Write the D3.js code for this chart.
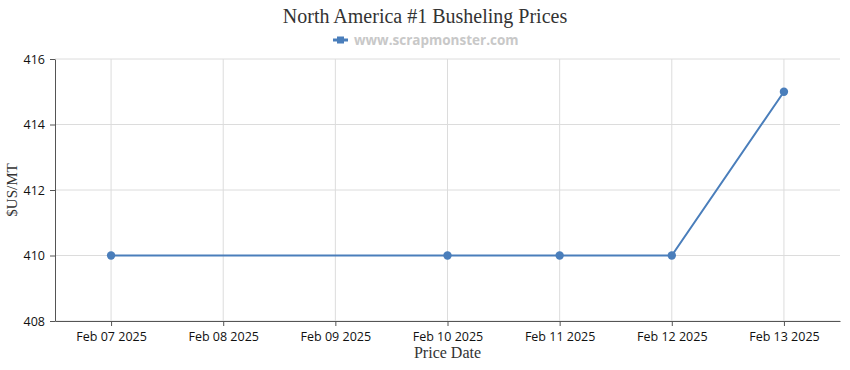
<!DOCTYPE html>
<html>
<head>
<meta charset="utf-8">
<script src="https://cdn.jsdelivr.net/npm/d3@7"></script>
<style>
  body { margin: 0; background: #fff; }
  .tick text { font-family: "Open Sans", "Noto Sans", sans-serif; font-size: 12.5px; fill: #111; }
</style>
</head>
<body>
<div id="chart"></div>
<script>
const dates = ["Feb 07 2025", "Feb 08 2025", "Feb 09 2025", "Feb 10 2025", "Feb 11 2025", "Feb 12 2025", "Feb 13 2025"];
const pointDates = ["Feb 07 2025", "Feb 10 2025", "Feb 11 2025", "Feb 12 2025", "Feb 13 2025"];
const prices = [410, 410, 410, 410, 415];
const yTicks = [408, 410, 412, 414, 416];

const width = 850,
  height = 370;
const margin = { top: 59, right: 10, bottom: 49, left: 55 };
const color = "#4a7ebb";

const data = pointDates.map((d, i) => ({ date: d, price: prices[i] }));

const x = d3.scalePoint().domain(dates).range([margin.left, width - margin.right]).padding(0.5);
const y = d3.scaleLinear().domain([408, 416]).range([height - margin.bottom, margin.top]);

const svg = d3
  .select("#chart")
  .append("svg")
  .attr("width", width)
  .attr("height", height);

// grid
svg
  .append("g")
  .selectAll("line")
  .data(yTicks)
  .join("line")
  .attr("x1", margin.left)
  .attr("x2", width - margin.right)
  .attr("y1", (d) => y(d))
  .attr("y2", (d) => y(d))
  .attr("stroke", "#dcdcdc");

svg
  .append("g")
  .selectAll("line")
  .data(dates)
  .join("line")
  .attr("x1", (d) => x(d))
  .attr("x2", (d) => x(d))
  .attr("y1", margin.top)
  .attr("y2", height - margin.bottom)
  .attr("stroke", "#dcdcdc");

// axes
const xAxis = svg
  .append("g")
  .attr("transform", `translate(0,${height - margin.bottom})`)
  .call(d3.axisBottom(x).tickSize(5).tickPadding(6).tickSizeOuter(0));
xAxis.select(".domain").attr("stroke", "#555");
xAxis.selectAll(".tick line").attr("stroke", "#555");

const yAxis = svg
  .append("g")
  .attr("transform", `translate(${margin.left},0)`)
  .call(d3.axisLeft(y).tickValues(yTicks).tickSize(5).tickPadding(5).tickSizeOuter(0));
yAxis.select(".domain").attr("stroke", "#555");
yAxis.selectAll(".tick line").attr("stroke", "#555");

// line + points
svg
  .append("path")
  .datum(data)
  .attr("fill", "none")
  .attr("stroke", color)
  .attr("stroke-width", 2)
  .attr("d", d3.line().x((d) => x(d.date)).y((d) => y(d.price)));

svg
  .selectAll(".point")
  .data(data)
  .join("circle")
  .attr("class", "point")
  .attr("cx", (d) => x(d.date))
  .attr("cy", (d) => y(d.price))
  .attr("r", 4.2)
  .attr("fill", color);

// title
svg
  .append("text")
  .attr("x", width / 2)
  .attr("y", 23)
  .attr("text-anchor", "middle")
  .attr("font-family", "Liberation Serif, serif")
  .attr("font-size", 20)
  .attr("fill", "#333")
  .text("North America #1 Busheling Prices");

// legend
const legend = svg.append("g").attr("transform", "translate(333,40)");
legend.append("line").attr("x1", 0).attr("x2", 15).attr("stroke", color).attr("stroke-width", 3);
legend.append("rect").attr("x", 4).attr("y", -3.5).attr("width", 7).attr("height", 7).attr("fill", color);
legend
  .append("text")
  .attr("x", 21)
  .attr("y", 4.5)
  .attr("font-family", "Open Sans, sans-serif")
  .attr("font-size", 13.5)
  .attr("font-weight", "bold")
  .attr("fill", "#c8c8c8")
  .text("www.scrapmonster.com");

// axis labels
svg
  .append("text")
  .attr("x", (margin.left + width - margin.right) / 2)
  .attr("y", 358)
  .attr("text-anchor", "middle")
  .attr("font-family", "Liberation Serif, serif")
  .attr("font-size", 16)
  .attr("fill", "#333")
  .text("Price Date");

svg
  .append("text")
  .attr("transform", `translate(17,${(margin.top + height - margin.bottom) / 2}) rotate(-90)`)
  .attr("text-anchor", "middle")
  .attr("font-family", "Liberation Serif, serif")
  .attr("font-size", 15)
  .attr("fill", "#333")
  .text("$US/MT");
</script>
</body>
</html>
